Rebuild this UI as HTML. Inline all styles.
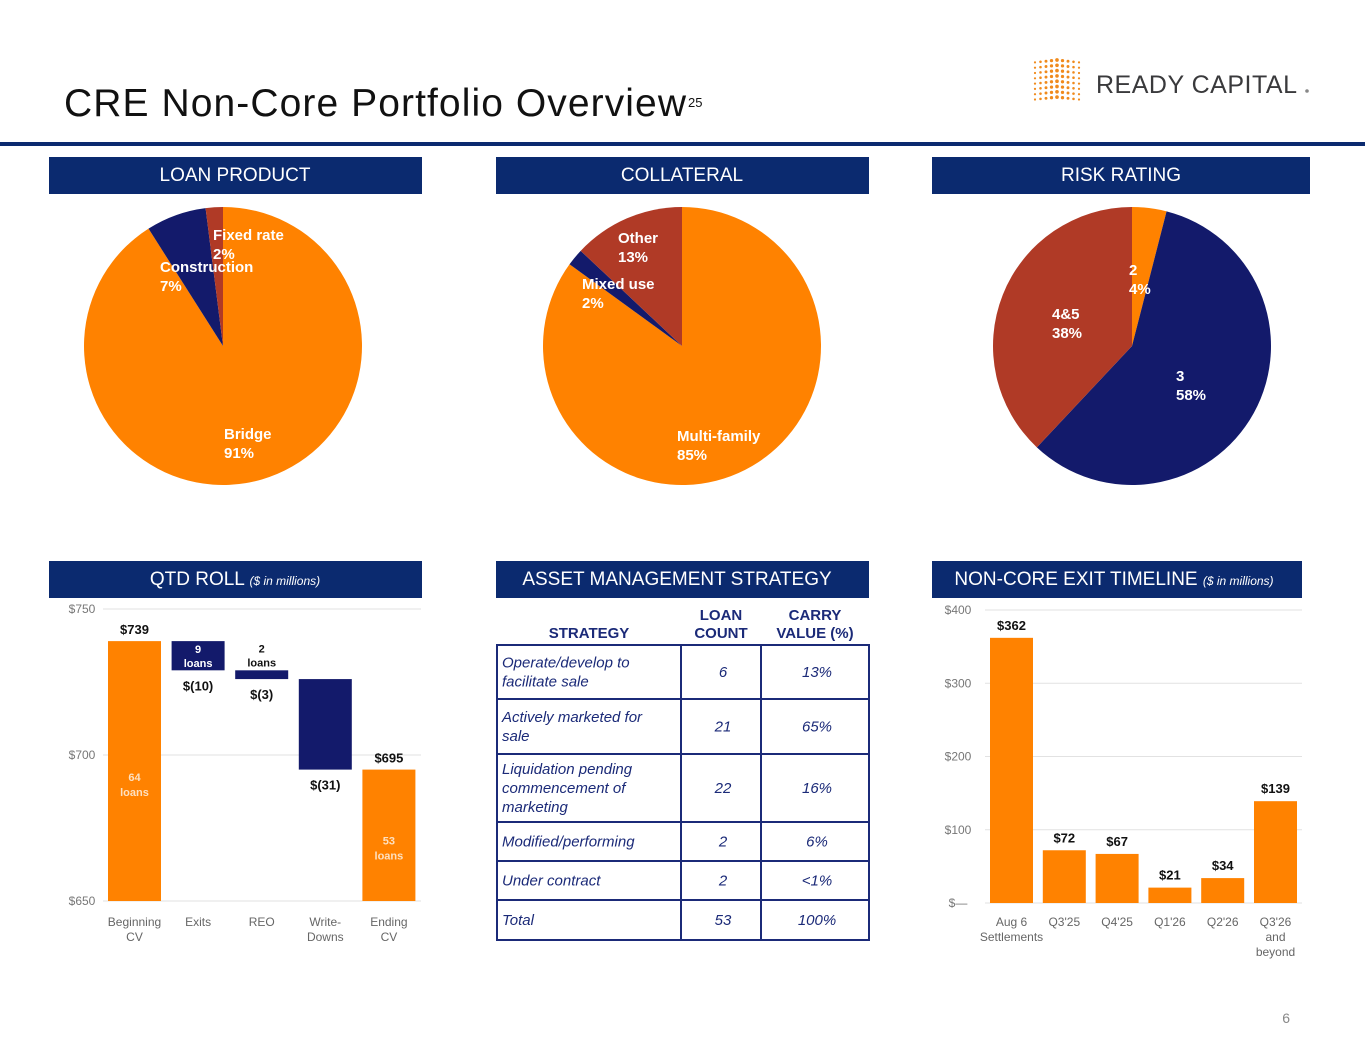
<!DOCTYPE html>
<html><head><meta charset="utf-8"><style>
body{margin:0;background:#fff;font-family:"Liberation Sans",Arial,sans-serif;}
svg{display:block}
</style></head><body>
<svg id="s" width="1365" height="1055" viewBox="0 0 1365 1055" xmlns="http://www.w3.org/2000/svg" font-family="Liberation Sans, Arial, sans-serif">
<text x="64" y="116" font-size="39" textLength="622" fill="#111">CRE Non-Core Portfolio Overview</text>
<text x="688" y="107" font-size="13" fill="#111">25</text>
<g id="logo"></g>
<text x="1096" y="93" font-size="25" fill="#3a3a3c" letter-spacing="0.5">READY CAPITAL</text>
<circle cx="1307" cy="91" r="1.8" fill="#888"/>
<rect x="0" y="142" width="1365" height="4" fill="#0B2A6F"/>

<g><rect x="49" y="157" width="373" height="37" fill="#0B2A6F"/><text x="235" y="181" font-size="19" fill="#fff" text-anchor="middle">LOAN PRODUCT</text></g>
<g><rect x="496" y="157" width="373" height="37" fill="#0B2A6F"/><text x="682" y="181" font-size="19" fill="#fff" text-anchor="middle">COLLATERAL</text></g>
<g><rect x="932" y="157" width="378" height="37" fill="#0B2A6F"/><text x="1121" y="181" font-size="19" fill="#fff" text-anchor="middle">RISK RATING</text></g>
<g><rect x="49" y="561" width="373" height="37" fill="#0B2A6F"/><text x="235" y="585" font-size="19" fill="#fff" text-anchor="middle">QTD ROLL <tspan font-size="12" font-style="italic">($ in millions)</tspan></text></g>
<g><rect x="496" y="561" width="373" height="37" fill="#0B2A6F"/><text x="677" y="585" font-size="19" fill="#fff" text-anchor="middle">ASSET MANAGEMENT STRATEGY</text></g>
<g><rect x="932" y="561" width="370" height="37" fill="#0B2A6F"/><text x="1114" y="585" font-size="19" fill="#fff" text-anchor="middle">NON-CORE EXIT TIMELINE <tspan font-size="12" font-style="italic">($ in millions)</tspan></text></g>

<g id="pies"></g>
<g id="wf"></g>
<g id="tbl"></g>
<g id="exit"></g>
<text x="1290" y="1023" font-size="14" fill="#888" text-anchor="end">6</text>
</svg>
<script>
const NS="http://www.w3.org/2000/svg";
const ORANGE="#FF8200",NAVY="#131A6B",RED="#B03A26";
// pie data
const pie1Labels=["Bridge","Construction","Fixed rate"];
const pie1Values=[91,7,2];
const pie2Labels=["Multi-family","Mixed use","Other"];
const pie2Values=[85,2,13];
const pie3Labels=["2","3","4&5"];
const pie3Values=[4,58,38];
// waterfall data
const wfCategories=["Beginning|CV","Exits","REO","Write-|Downs","Ending|CV"];
const wfValues=[739,-10,-3,-31,695];
const wfValueLabels=["$739","$(10)","$(3)","$(31)","$695"];
const wfLoanLabels=["64|loans","9|loans","2|loans","","53|loans"];
const wfTicks=[650,700,750];
// exit timeline data
const exitCategories=["Aug 6|Settlements","Q3'25","Q4'25","Q1'26","Q2'26","Q3'26|and|beyond"];
const exitValues=[362,72,67,21,34,139];
const exitTicks=[0,100,200,300,400];
const exitTickLabels=["$—","$100","$200","$300","$400"];
// table
const tblStrategies=["Operate/develop to|facilitate sale","Actively marketed for|sale","Liquidation pending|commencement of|marketing","Modified/performing","Under contract","Total"];
const tblCounts=["6","21","22","2","2","53"];
const tblCarry=["13%","65%","16%","6%","<1%","100%"];

function el(tag,attrs,parent,text){const e=document.createElementNS(NS,tag);for(const k in attrs)e.setAttribute(k,attrs[k]);if(text!==undefined)e.textContent=text;parent.appendChild(e);return e;}
function multiText(parent,x,y,lines,size,fill,weight,lh,anchor,style){const t=el("text",{x:x,y:y,"font-size":size,fill:fill,"font-weight":weight||"normal","text-anchor":anchor||"middle","font-style":style||"normal"},parent);lines.forEach((l,i)=>{el("tspan",{x:x,dy:i?lh:0},t,l);});return t;}

// logo dots
(function(){const g=document.getElementById("logo");for(let i=0;i<9;i++){for(let j=0;j<8;j++){const x=1035+i*5.5,y=60+j*5.3+Math.abs(i-4)*0.6;const r=1.1+(4-Math.abs(i-4))*0.18;el("circle",{cx:x,cy:y,r:r,fill:"#F08A1C"},g);}}})();

// pies
const pieColors=[ORANGE,NAVY,RED];
function drawPie(cx,cy,r,labels,values,labelPos,name){
 const g=el("g",{},document.getElementById("pies"));
 
 
 const tot=values.reduce((a,b)=>a+b,0);let a0=0;
 values.forEach((v,i)=>{const a1=a0+v/tot*2*Math.PI;
  const x0=cx+r*Math.sin(a0),y0=cy-r*Math.cos(a0),x1=cx+r*Math.sin(a1),y1=cy-r*Math.cos(a1);
  const p=el("path",{d:`M${cx},${cy}L${x0},${y0}A${r},${r} 0 ${a1-a0>Math.PI?1:0} 1 ${x1},${y1}Z`,fill:pieColors[i]},g);
  
  
  a0=a1;});
 values.forEach((v,i)=>{const lp=labelPos[i];
  const t=multiText(g,lp[0],lp[1],[labels[i],v+"%"],15,"#fff","bold",19,"start");
  
  });
}
drawPie(223,346,139,pie1Labels,pie1Values,[[224,439],[160,272],[213,240]],"loan-product-pie");
drawPie(682,346,139,pie2Labels,pie2Values,[[677,441],[582,289],[618,243]],"collateral-pie");
drawPie(1132,346,139,pie3Labels,pie3Values,[[1129,275],[1176,381],[1052,319]],"risk-rating-pie");

// waterfall
(function(){const g=document.getElementById("wf");
 
 
 const y=v=>901-(v-650)*(292/100);const x0=103,step=63.6,bw=53;
 wfTicks.forEach(t=>{el("line",{x1:x0,x2:421,y1:y(t),y2:y(t),stroke:"#e2e2e2"},g);const tl=el("text",{x:82,y:y(t)+4,"font-size":12,fill:"#777","text-anchor":"middle"},g,"$"+t);});
 let run=0;
 wfValues.forEach((v,i)=>{let top,bot,col;
  if(i===0||i===wfValues.length-1){top=v;bot=650;col=ORANGE;run=v;}else{top=run;bot=run+v;run=bot;col=NAVY;}
  const bx=x0+5+i*step,cxm=bx+bw/2;
  const r=el("rect",{x:bx,y:y(top),width:bw,height:y(bot)-y(top),fill:col},g);
  
  
  const lines=wfCategories[i].split('|');multiText(g,cxm,926,lines,12,"#666","normal",15);
  if(i===0||i===wfValues.length-1){el("text",{x:cxm,y:y(top)-7,"font-size":13,"font-weight":"bold",fill:"#111","text-anchor":"middle"},g,wfValueLabels[i]);
   multiText(g,cxm,i===0?y(top)+140:y(top)+75,wfLoanLabels[i].split('|'),11,"#fde0c0","bold",15);}
  else{el("text",{x:cxm,y:y(bot)+20,"font-size":13,"font-weight":"bold",fill:"#111","text-anchor":"middle"},g,wfValueLabels[i]);
   if(wfLoanLabels[i]){const inside=(y(bot)-y(top))>20;multiText(g,cxm,inside?y(top)+12:y(top)-18,wfLoanLabels[i].split('|'),11,inside?"#fff":"#111","bold",14);}}
 });
})();

// exit timeline
(function(){const g=document.getElementById("exit");
 
 
 const y=v=>903-v*(293/400);const x0=985,step=52.8,bw=43;
 exitTicks.forEach((t,i)=>{el("line",{x1:x0,x2:1302,y1:y(t),y2:y(t),stroke:"#e2e2e2"},g);const tl=el("text",{x:958,y:y(t)+4,"font-size":12,fill:"#777","text-anchor":"middle"},g,exitTickLabels[i]);});
 exitValues.forEach((v,i)=>{const bx=x0+5+i*step,cxm=bx+bw/2;
  const r=el("rect",{x:bx,y:y(v),width:bw,height:y(0)-y(v),fill:ORANGE},g);
  
  
  el("text",{x:cxm,y:y(v)-8,"font-size":13,"font-weight":"bold",fill:"#111","text-anchor":"middle"},g,"$"+v);
  multiText(g,cxm,926,exitCategories[i].split('|'),12,"#666","normal",15);
 });
})();

// table
(function(){const g=document.getElementById("tbl");const C="#1B2A78";
 multiText(g,589,638,["STRATEGY"],15,C,"bold",18);
 multiText(g,721,620,["LOAN","COUNT"],15,C,"bold",18);
 multiText(g,815,620,["CARRY","VALUE (%)"],15,C,"bold",18);
 const ys=[645,699,754,822,861,900,940];
 el("rect",{x:497,y:645,width:372,height:295,fill:"none",stroke:C,"stroke-width":2},g);
 ys.slice(1,-1).forEach(v=>el("line",{x1:497,x2:869,y1:v,y2:v,stroke:C,"stroke-width":2},g));
 [681,761].forEach(v=>el("line",{x1:v,x2:v,y1:645,y2:940,stroke:C,"stroke-width":2},g));
 tblStrategies.forEach((s,i)=>{const lines=s.split('|');const mid=(ys[i]+ys[i+1])/2;const y0=mid+5-(lines.length-1)*9.5;
  const t=multiText(g,502,y0,lines,15,C,"normal",19,"start","italic");
  multiText(g,723,mid+5,[tblCounts[i]],15,C,"normal",18,"middle","italic");
  multiText(g,817,mid+5,[tblCarry[i]],15,C,"normal",18,"middle","italic");});
})();
</script>
</body></html>
